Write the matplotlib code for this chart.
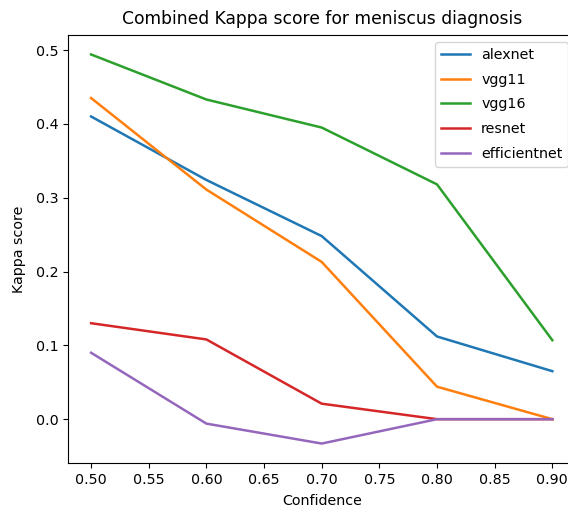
import numpy as np
import matplotlib
matplotlib.use("Agg")
import matplotlib.pyplot as plt

confidence = [0.5, 0.6, 0.7, 0.8, 0.9]
alexnet = [0.410, 0.324, 0.248, 0.112, 0.065]
vgg11 = [0.435, 0.311, 0.213, 0.044, 0.0]
vgg16 = [0.494, 0.433, 0.395, 0.318, 0.107]
resnet = [0.130, 0.108, 0.021, 0.0, 0.0]
efficientnet = [0.090, -0.006, -0.033, 0.0, 0.0]

series = {
    "alexnet": alexnet,
    "vgg11": vgg11,
    "vgg16": vgg16,
    "resnet": resnet,
    "efficientnet": efficientnet,
}

plt.rcParams["font.size"] = 10.3

fig = plt.figure(figsize=(5.68, 5.15), dpi=100)
# axes run past the right edge, like the cropped original
ax = fig.add_axes([68 / 568, 52 / 515, 507.4 / 568, 428 / 515])

for name, vals in series.items():
    ax.plot(confidence, vals, label=name, linewidth=1.8)

ax.set_title("Combined Kappa score for meniscus diagnosis", pad=8)
ax.set_xlabel("Confidence", labelpad=5)
ax.set_ylabel("Kappa score", labelpad=7)
ax.set_xticks(np.arange(0.5, 0.91, 0.05))
ax.legend(loc="upper right", labelspacing=0.75)

fig.savefig("out.png", dpi=100)
